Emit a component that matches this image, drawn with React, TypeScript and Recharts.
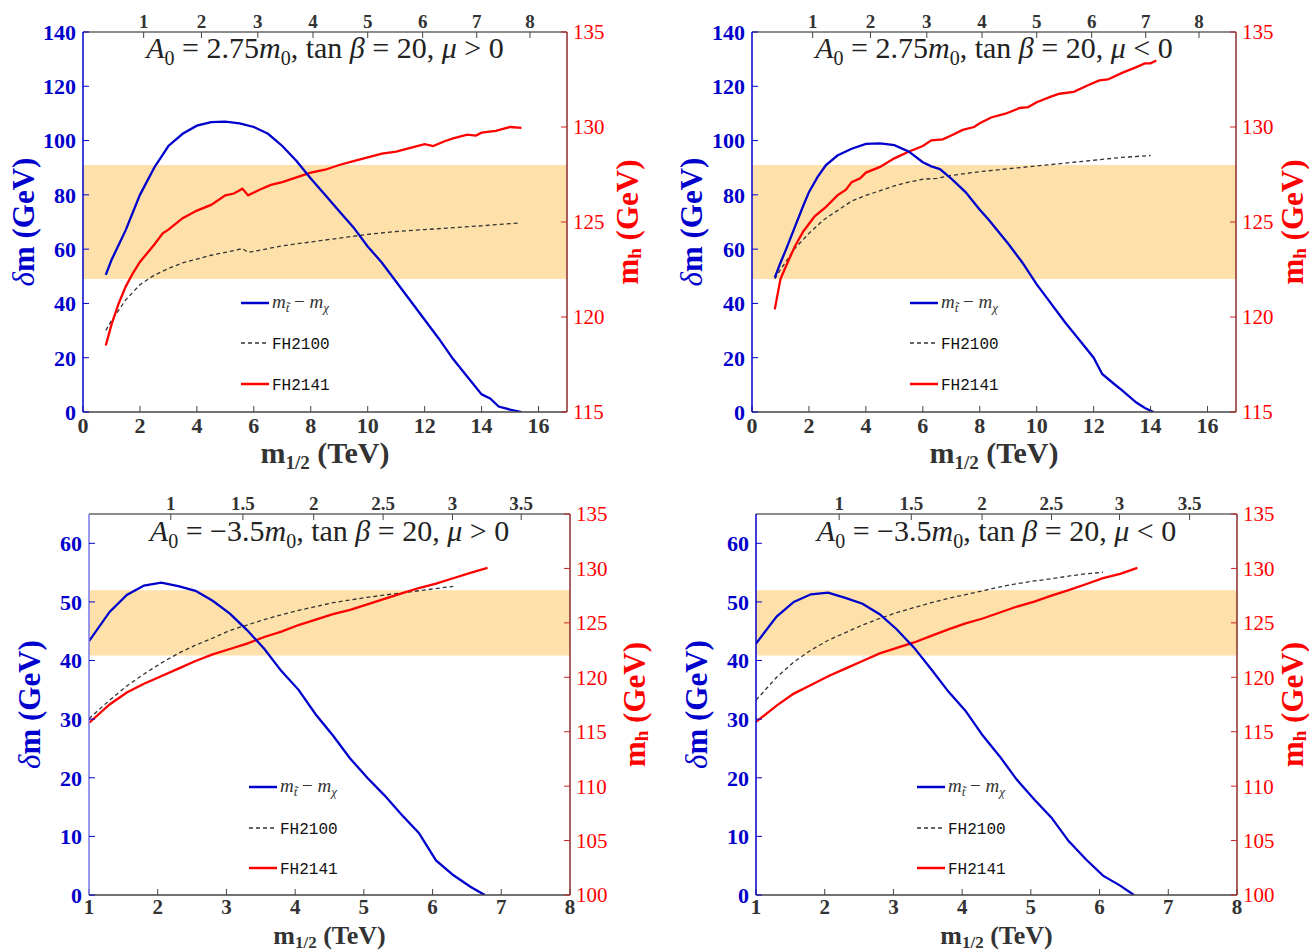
import React from 'react';
import { LineChart, Line, XAxis, YAxis, ReferenceArea } from 'recharts';

const SERIF = "'Liberation Serif', 'Times New Roman', serif";
const MONO = "'Liberation Mono', 'DejaVu Sans Mono', monospace";

const BAND_LOW = 122;
const BAND_HIGH = 128;

// ---------- Panel 1: A0 = 2.75 m0, tan beta = 20, mu > 0 ----------
const p1DmX = [0.8, 1.0, 1.5, 2.0, 2.5, 3.0, 3.5, 4.0, 4.5, 5.0, 5.5, 6.0, 6.5, 7.0, 7.5, 8.0, 8.5, 9.0, 9.5, 10.0, 10.5, 11.0, 11.5, 12.0, 12.5, 13.0, 13.5, 14.0, 14.3, 14.6, 15.0, 15.4];
const p1DmY = [50.5, 56, 67, 80, 90, 98, 102.5, 105.5, 106.8, 107, 106.3, 105, 102.5, 98, 92.5, 86, 80, 74, 68, 61, 55, 48, 41, 34, 27, 19.5, 13, 6.5, 5, 2, 0.9, 0];
const p1Fh2100X = [0.8, 1.0, 1.5, 2.0, 2.5, 3.0, 3.5, 4.0, 4.5, 5.0, 5.6, 5.8, 6.5, 7.0, 8.0, 9.0, 10.0, 11.0, 12.0, 13.0, 14.0, 15.3];
const p1Fh2100Y = [119.3, 119.8, 120.9, 121.7, 122.2, 122.55, 122.85, 123.05, 123.25, 123.4, 123.6, 123.4, 123.6, 123.75, 123.95, 124.15, 124.35, 124.5, 124.6, 124.7, 124.8, 124.95];
const p1Fh2141X = [0.8, 1.0, 1.25, 1.5, 1.75, 2.0, 2.5, 2.8, 3.0, 3.5, 4.0, 4.5, 5.0, 5.3, 5.6, 5.8, 6.2, 6.6, 7.0, 7.5, 8.0, 8.5, 9.0, 9.5, 10.0, 10.5, 11.0, 11.5, 12.0, 12.3, 12.7, 13.0, 13.5, 13.8, 14.0, 14.5, 15.0, 15.4];
const p1Fh2141Y = [118.5, 119.6, 120.7, 121.6, 122.3, 122.9, 123.8, 124.4, 124.6, 125.2, 125.6, 125.9, 126.4, 126.5, 126.75, 126.4, 126.7, 126.95, 127.1, 127.35, 127.6, 127.75, 128.0, 128.2, 128.4, 128.6, 128.7, 128.9, 129.1, 129.0, 129.25, 129.4, 129.6, 129.55, 129.7, 129.8, 130.0, 129.95];

// ---------- Panel 2: A0 = 2.75 m0, tan beta = 20, mu < 0 ----------
const p2DmX = [0.8, 1.0, 1.2, 1.5, 1.8, 2.0, 2.3, 2.6, 3.0, 3.5, 4.0, 4.5, 5.0, 5.5, 6.0, 6.3, 6.6, 7.0, 7.5, 8.0, 8.3, 9.0, 9.5, 10.0, 10.5, 11.0, 11.5, 12.0, 12.3, 12.7, 13.0, 13.5, 13.8, 14.1];
const p2DmY = [49.5, 55, 60, 68, 76, 81, 86.5, 91, 94.5, 97, 98.8, 99, 98.3, 96, 92, 90.5, 89.5, 86, 81, 74.5, 71, 62, 55, 47, 40, 33, 26.5, 20, 14, 10.5, 8, 3.5, 1.5, 0];
const p2Fh2100X = [0.8, 1.0, 1.5, 2.0, 2.5, 3.0, 3.5, 4.0, 4.5, 5.0, 5.5, 6.0, 6.5, 7.0, 8.0, 9.0, 10.0, 11.0, 12.0, 13.0, 14.0];
const p2Fh2100Y = [122.0, 122.5, 123.6, 124.4, 125.1, 125.6, 126.1, 126.4, 126.65, 126.9, 127.1, 127.25, 127.3, 127.45, 127.65, 127.8, 127.95, 128.1, 128.25, 128.4, 128.5];
const p2Fh2141X = [0.8, 1.0, 1.2, 1.5, 1.8, 2.2, 2.6, 3.0, 3.3, 3.5, 3.8, 4.0, 4.5, 5.0, 5.5, 6.0, 6.3, 6.7, 7.0, 7.4, 7.8, 8.0, 8.4, 8.9, 9.4, 9.7, 10.0, 10.5, 10.8, 11.3, 11.8, 12.2, 12.5, 13.0, 13.5, 13.8, 14.0, 14.2];
const p2Fh2141Y = [120.4, 122.0, 122.7, 123.7, 124.5, 125.3, 125.8, 126.4, 126.7, 127.1, 127.3, 127.6, 127.9, 128.35, 128.7, 129.0, 129.3, 129.35, 129.55, 129.85, 130.0, 130.2, 130.5, 130.7, 131.0, 131.05, 131.3, 131.6, 131.75, 131.85, 132.2, 132.45, 132.5, 132.85, 133.15, 133.35, 133.35, 133.5];

// ---------- Panel 3: A0 = -3.5 m0, tan beta = 20, mu > 0 ----------
const p3DmX = [1.0, 1.3, 1.55, 1.8, 2.05, 2.3, 2.55, 2.8, 3.05, 3.3, 3.55, 3.8, 4.05, 4.3, 4.55, 4.8, 5.05, 5.3, 5.55, 5.8, 6.05, 6.3, 6.55, 6.76];
const p3DmY = [43.3, 48.3, 51.2, 52.8, 53.3, 52.7, 51.9, 50.2, 48.0, 45.2, 42.0, 38.2, 35.0, 30.8, 27.2, 23.3, 20.0, 17.0, 13.7, 10.6, 5.9, 3.4, 1.4, 0];
const p3Fh2100X = [1.0, 1.3, 1.55, 1.8, 2.05, 2.3, 2.55, 2.8, 3.05, 3.3, 3.55, 3.8, 4.05, 4.3, 4.55, 4.8, 5.05, 5.3, 5.55, 5.8, 6.05, 6.3];
const p3Fh2100Y = [116.2, 117.9, 119.2, 120.3, 121.3, 122.2, 122.95, 123.6, 124.3, 124.8, 125.3, 125.75, 126.15, 126.5, 126.85, 127.1, 127.35, 127.55, 127.75, 127.95, 128.15, 128.35];
const p3Fh2141X = [1.0, 1.3, 1.55, 1.8, 2.05, 2.3, 2.55, 2.8, 3.05, 3.3, 3.55, 3.8, 4.05, 4.3, 4.55, 4.8, 5.05, 5.3, 5.55, 5.8, 6.05, 6.3, 6.55, 6.8];
const p3Fh2141Y = [115.8, 117.5, 118.6, 119.4, 120.1, 120.8, 121.5, 122.1, 122.6, 123.1, 123.7, 124.2, 124.8, 125.3, 125.8, 126.2, 126.7, 127.2, 127.7, 128.2, 128.6, 129.1, 129.6, 130.05];

// ---------- Panel 4: A0 = -3.5 m0, tan beta = 20, mu < 0 ----------
const p4DmX = [1.0, 1.3, 1.55, 1.8, 2.05, 2.3, 2.55, 2.8, 3.05, 3.3, 3.55, 3.8, 4.05, 4.3, 4.55, 4.8, 5.05, 5.3, 5.55, 5.8, 6.05, 6.3, 6.5];
const p4DmY = [42.9, 47.5, 50.0, 51.3, 51.6, 50.7, 49.7, 47.9, 45.3, 42.2, 38.5, 34.7, 31.4, 27.2, 23.6, 19.6, 16.3, 13.2, 9.2, 6.1, 3.3, 1.6, 0];
const p4Fh2100X = [1.0, 1.3, 1.55, 1.8, 2.05, 2.3, 2.55, 2.8, 3.05, 3.3, 3.55, 3.8, 4.05, 4.3, 4.55, 4.8, 5.05, 5.3, 5.55, 5.8, 6.05];
const p4Fh2100Y = [117.9, 120.0, 121.4, 122.5, 123.4, 124.1, 124.8, 125.4, 125.95, 126.4, 126.85, 127.25, 127.6, 127.95, 128.3, 128.6, 128.85, 129.05, 129.3, 129.5, 129.65];
const p4Fh2141X = [1.0, 1.3, 1.55, 1.8, 2.05, 2.3, 2.55, 2.8, 3.05, 3.3, 3.55, 3.8, 4.05, 4.3, 4.55, 4.8, 5.05, 5.3, 5.55, 5.8, 6.05, 6.3, 6.55];
const p4Fh2141Y = [115.9, 117.4, 118.5, 119.3, 120.1, 120.8, 121.5, 122.2, 122.7, 123.2, 123.8, 124.4, 124.95, 125.4, 125.95, 126.5, 126.95, 127.5, 128.0, 128.55, 129.1, 129.5, 130.05];

// ---------- Axes ----------
const topXDomain: [number, number] = [0, 17];
const topXTicks = [0, 2, 4, 6, 8, 10, 12, 14, 16];
const topLeftTicks = [0, 20, 40, 60, 80, 100, 120, 140];
const topRightTicks = [115, 120, 125, 130, 135];
const topM0TickPos = [2.13, 4.16, 6.14, 8.08, 10.0, 11.93, 13.83, 15.7];
const topM0TickLabels = ['1', '2', '3', '4', '5', '6', '7', '8'];

const botXDomain: [number, number] = [1, 8];
const botXTicks = [1, 2, 3, 4, 5, 6, 7, 8];
const botLeftTicks = [0, 10, 20, 30, 40, 50, 60];
const botRightTicks = [100, 105, 110, 115, 120, 125, 130, 135];
const p3M0TickPos = [2.19, 3.24, 4.27, 5.28, 6.29, 7.29];
const p4M0TickPos = [2.21, 3.26, 4.29, 5.3, 6.29, 7.31];
const botM0TickLabels = ['1', '1.5', '2', '2.5', '3', '3.5'];

const zip = (xs: number[], ys: number[]) => xs.map((x, i) => ({ x, y: ys[i] }));

const BLUE = '#0000cc';
const RED = '#ff0000';

type Cfg = {
  left: number; top: number; width: number; height: number;
  yLeftW: number; yRightW: number; xTopH: number; xBottomH: number;
  xDomain: [number, number]; xTicks: number[];
  m0Pos: number[]; m0Labels: string[];
  yLeftDomain: [number, number]; yLeftTicks: number[];
  yRightDomain: [number, number]; yRightTicks: number[];
  dm: { x: number; y: number }[]; fh2100: { x: number; y: number }[]; fh2141: { x: number; y: number }[];
  a0: string; mu: string;
  titleBase: number; legX: number; legY: number[];
  leftLabX: number; rightLabX: number; bottomBase: number; bottomSize: number; bottomSub: number;
  bottomTickSize: number; bottomTickMargin: number;
  leftAxisColor: string;
};

const panels: Cfg[] = [
  {
    left: 0, top: 0, width: 654, height: 476, yLeftW: 83, yRightW: 87, xTopH: 32, xBottomH: 64,
    xDomain: topXDomain, xTicks: topXTicks, m0Pos: topM0TickPos, m0Labels: topM0TickLabels,
    yLeftDomain: [0, 140], yLeftTicks: topLeftTicks, yRightDomain: [115, 135], yRightTicks: topRightTicks,
    dm: zip(p1DmX, p1DmY), fh2100: zip(p1Fh2100X, p1Fh2100Y), fh2141: zip(p1Fh2141X, p1Fh2141Y),
    a0: '2.75', mu: '>', titleBase: 58, legX: 241, legY: [303, 343, 384],
    leftLabX: 23, rightLabX: 627, bottomBase: 463, bottomSize: 30, bottomSub: 6,
    bottomTickSize: 22, bottomTickMargin: 11, leftAxisColor: BLUE,
  },
  {
    left: 654, top: 0, width: 655, height: 476, yLeftW: 98, yRightW: 73, xTopH: 32, xBottomH: 64,
    xDomain: topXDomain, xTicks: topXTicks, m0Pos: topM0TickPos, m0Labels: topM0TickLabels,
    yLeftDomain: [0, 140], yLeftTicks: topLeftTicks, yRightDomain: [115, 135], yRightTicks: topRightTicks,
    dm: zip(p2DmX, p2DmY), fh2100: zip(p2Fh2100X, p2Fh2100Y), fh2141: zip(p2Fh2141X, p2Fh2141Y),
    a0: '2.75', mu: '<', titleBase: 58, legX: 256, legY: [303, 343, 384],
    leftLabX: 37, rightLabX: 638, bottomBase: 463, bottomSize: 30, bottomSub: 6,
    bottomTickSize: 22, bottomTickMargin: 11, leftAxisColor: BLUE,
  },
  {
    left: 0, top: 476, width: 654, height: 476, yLeftW: 89, yRightW: 84, xTopH: 38, xBottomH: 57,
    xDomain: botXDomain, xTicks: botXTicks, m0Pos: p3M0TickPos, m0Labels: botM0TickLabels,
    yLeftDomain: [0, 65], yLeftTicks: botLeftTicks, yRightDomain: [100, 135], yRightTicks: botRightTicks,
    dm: zip(p3DmX, p3DmY), fh2100: zip(p3Fh2100X, p3Fh2100Y), fh2141: zip(p3Fh2141X, p3Fh2141Y),
    a0: '\u22123.5', mu: '>', titleBase: 65, legX: 249, legY: [311, 352, 392],
    leftLabX: 29, rightLabX: 634, bottomBase: 468, bottomSize: 26, bottomSub: 4,
    bottomTickSize: 21, bottomTickMargin: 10, leftAxisColor: '#7777ee',
  },
  {
    left: 654, top: 476, width: 655, height: 476, yLeftW: 102, yRightW: 72, xTopH: 38, xBottomH: 57,
    xDomain: botXDomain, xTicks: botXTicks, m0Pos: p4M0TickPos, m0Labels: botM0TickLabels,
    yLeftDomain: [0, 65], yLeftTicks: botLeftTicks, yRightDomain: [100, 135], yRightTicks: botRightTicks,
    dm: zip(p4DmX, p4DmY), fh2100: zip(p4Fh2100X, p4Fh2100Y), fh2141: zip(p4Fh2141X, p4Fh2141Y),
    a0: '\u22123.5', mu: '<', titleBase: 65, legX: 263, legY: [311, 352, 392],
    leftLabX: 42, rightLabX: 638, bottomBase: 468, bottomSize: 26, bottomSub: 4,
    bottomTickSize: 21, bottomTickMargin: 10, leftAxisColor: BLUE,
  },
];

function Overlay({ c }: { c: Cfg }) {
  const plotL = c.yLeftW;
  const plotR = c.width - c.yRightW;
  const plotT = c.xTopH;
  const plotB = c.height - c.xBottomH;
  const cx = (plotL + plotR) / 2;
  const cy = (plotT + plotB) / 2;
  const sub = 7;
  return (
    <svg width={c.width} height={c.height} style={{ position: 'absolute', left: 0, top: 0, pointerEvents: 'none', overflow: 'visible' }}>
      <text x={cx} y={c.titleBase} textAnchor="middle" fontFamily={SERIF} fontSize={30} fill="#222" style={{ whiteSpace: 'pre' }}>
        <tspan fontStyle="italic">A</tspan>
        <tspan fontSize={20} dy={sub}>0</tspan>
        <tspan dy={-sub}>{' = ' + c.a0}</tspan>
        <tspan fontStyle="italic">m</tspan>
        <tspan fontSize={20} dy={sub}>0</tspan>
        <tspan dy={-sub}>{', tan '}</tspan>
        <tspan fontStyle="italic">{'\u03b2'}</tspan>
        <tspan>{' = 20, '}</tspan>
        <tspan fontStyle="italic">{'\u03bc'}</tspan>
        <tspan>{' ' + c.mu + ' 0'}</tspan>
      </text>

      {/* legend */}
      <line x1={c.legX} x2={c.legX + 28} y1={c.legY[0]} y2={c.legY[0]} stroke={BLUE} strokeWidth={2.5} />
      <text x={c.legX + 31} y={c.legY[0] + 5} fontFamily={SERIF} fontSize={19} fill="#333" style={{ whiteSpace: 'pre' }}>
        <tspan fontStyle="italic">m</tspan>
        <tspan fontStyle="italic" fontSize={13} dy={4}>{'t\u0303'}</tspan>
        <tspan dy={-4}>{' \u2212 '}</tspan>
        <tspan fontStyle="italic">m</tspan>
        <tspan fontStyle="italic" fontSize={13} dy={4}>{'\u03c7'}</tspan>
      </text>
      <line x1={c.legX} x2={c.legX + 28} y1={c.legY[1]} y2={c.legY[1]} stroke="#333" strokeWidth={1.3} strokeDasharray="4 3" />
      <text x={c.legX + 31} y={c.legY[1] + 6} fontFamily={MONO} fontSize={16} fill="#111">FH2100</text>
      <line x1={c.legX} x2={c.legX + 28} y1={c.legY[2]} y2={c.legY[2]} stroke={RED} strokeWidth={2.5} />
      <text x={c.legX + 31} y={c.legY[2] + 6} fontFamily={MONO} fontSize={16} fill="#111">FH2141</text>

      {/* axis labels */}
      <text transform={`translate(${c.leftLabX},${cy}) rotate(-90)`} textAnchor="middle" dominantBaseline="central"
        fontFamily={SERIF} fontSize={31} fontWeight="bold" fill={BLUE} style={{ whiteSpace: 'pre' }}>
        <tspan fontStyle="italic" fontWeight="normal">{'\u03b4'}</tspan>
        <tspan>{'m (GeV)'}</tspan>
      </text>
      <text transform={`translate(${c.rightLabX},${cy}) rotate(-90)`} textAnchor="middle" dominantBaseline="central"
        fontFamily={SERIF} fontSize={31} fontWeight="bold" fill={RED} style={{ whiteSpace: 'pre' }}>
        <tspan>m</tspan>
        <tspan fontSize={19} dy={7}>h</tspan>
        <tspan dy={-7}>{' (GeV)'}</tspan>
      </text>
      <text x={cx} y={c.bottomBase} textAnchor="middle" fontFamily={SERIF} fontSize={c.bottomSize} fontWeight="bold" fill="#333" style={{ whiteSpace: 'pre' }}>
        <tspan>m</tspan>
        <tspan fontSize={Math.round(c.bottomSize * 0.64)} dy={c.bottomSub}>1/2</tspan>
        <tspan dy={-c.bottomSub}>{' (TeV)'}</tspan>
      </text>
    </svg>
  );
}

function Panel({ c }: { c: Cfg }) {
  const tickDark = { fill: '#333', fontSize: c.bottomTickSize, fontWeight: 'bold', fontFamily: SERIF };
  return (
    <div style={{ position: 'absolute', left: c.left, top: c.top, width: c.width, height: c.height }}>
      <LineChart width={c.width} height={c.height} margin={{ top: 0, right: 0, bottom: 0, left: 0 }}>
        <XAxis xAxisId="bottom" type="number" dataKey="x" domain={c.xDomain} ticks={c.xTicks} interval={0}
          allowDataOverflow height={c.xBottomH} tickSize={-6} tickMargin={c.bottomTickMargin}
          tick={tickDark} axisLine={{ stroke: '#444', strokeWidth: 1.5 }} tickLine={{ stroke: '#444' }} />
        <XAxis xAxisId="top" orientation="top" type="number" dataKey="x" domain={c.xDomain} ticks={c.m0Pos} interval={0}
          allowDataOverflow height={c.xTopH} tickSize={-6} tickMargin={10}
          tickFormatter={(v: number) => c.m0Labels[c.m0Pos.indexOf(v)] ?? ''}
          tick={{ fill: '#333', fontSize: 19, fontWeight: 'bold', fontFamily: SERIF }}
          axisLine={{ stroke: '#666', strokeWidth: 1.5 }} tickLine={{ stroke: '#444' }} />
        <YAxis yAxisId="left" type="number" domain={c.yLeftDomain} ticks={c.yLeftTicks} interval={0}
          allowDataOverflow width={c.yLeftW} tickSize={-6} tickMargin={13}
          tick={{ fill: BLUE, fontSize: 22, fontWeight: 'bold', fontFamily: SERIF }}
          axisLine={{ stroke: c.leftAxisColor, strokeWidth: 1.5 }} tickLine={{ stroke: BLUE }} />
        <YAxis yAxisId="right" orientation="right" type="number" domain={c.yRightDomain} ticks={c.yRightTicks} interval={0}
          allowDataOverflow width={c.yRightW} tickSize={-6} tickMargin={12}
          tick={{ fill: RED, fontSize: 21, fontFamily: SERIF }}
          axisLine={{ stroke: '#8a2a2a', strokeWidth: 1.5 }} tickLine={{ stroke: '#cc2222' }} />
        <ReferenceArea xAxisId="bottom" yAxisId="right" y1={BAND_LOW} y2={BAND_HIGH} fill="#fde0aa" fillOpacity={1} stroke="none" />
        <Line xAxisId="bottom" yAxisId="right" data={c.fh2100} dataKey="y" type="linear" stroke="#333" strokeWidth={1.3}
          strokeDasharray="4 3" dot={false} activeDot={false} isAnimationActive={false} />
        <Line xAxisId="bottom" yAxisId="right" data={c.fh2141} dataKey="y" type="linear" stroke={RED} strokeWidth={2.3}
          dot={false} activeDot={false} isAnimationActive={false} />
        <Line xAxisId="bottom" yAxisId="left" data={c.dm} dataKey="y" type="linear" stroke={BLUE} strokeWidth={2.3}
          dot={false} activeDot={false} isAnimationActive={false} />
      </LineChart>
      <Overlay c={c} />
    </div>
  );
}

export default function App() {
  return (
    <div style={{ position: 'absolute', left: 0, top: 0, width: 1309, height: 952, background: '#fff', overflow: 'hidden' }}>
      {panels.map((c, i) => (
        <Panel key={i} c={c} />
      ))}
    </div>
  );
}
